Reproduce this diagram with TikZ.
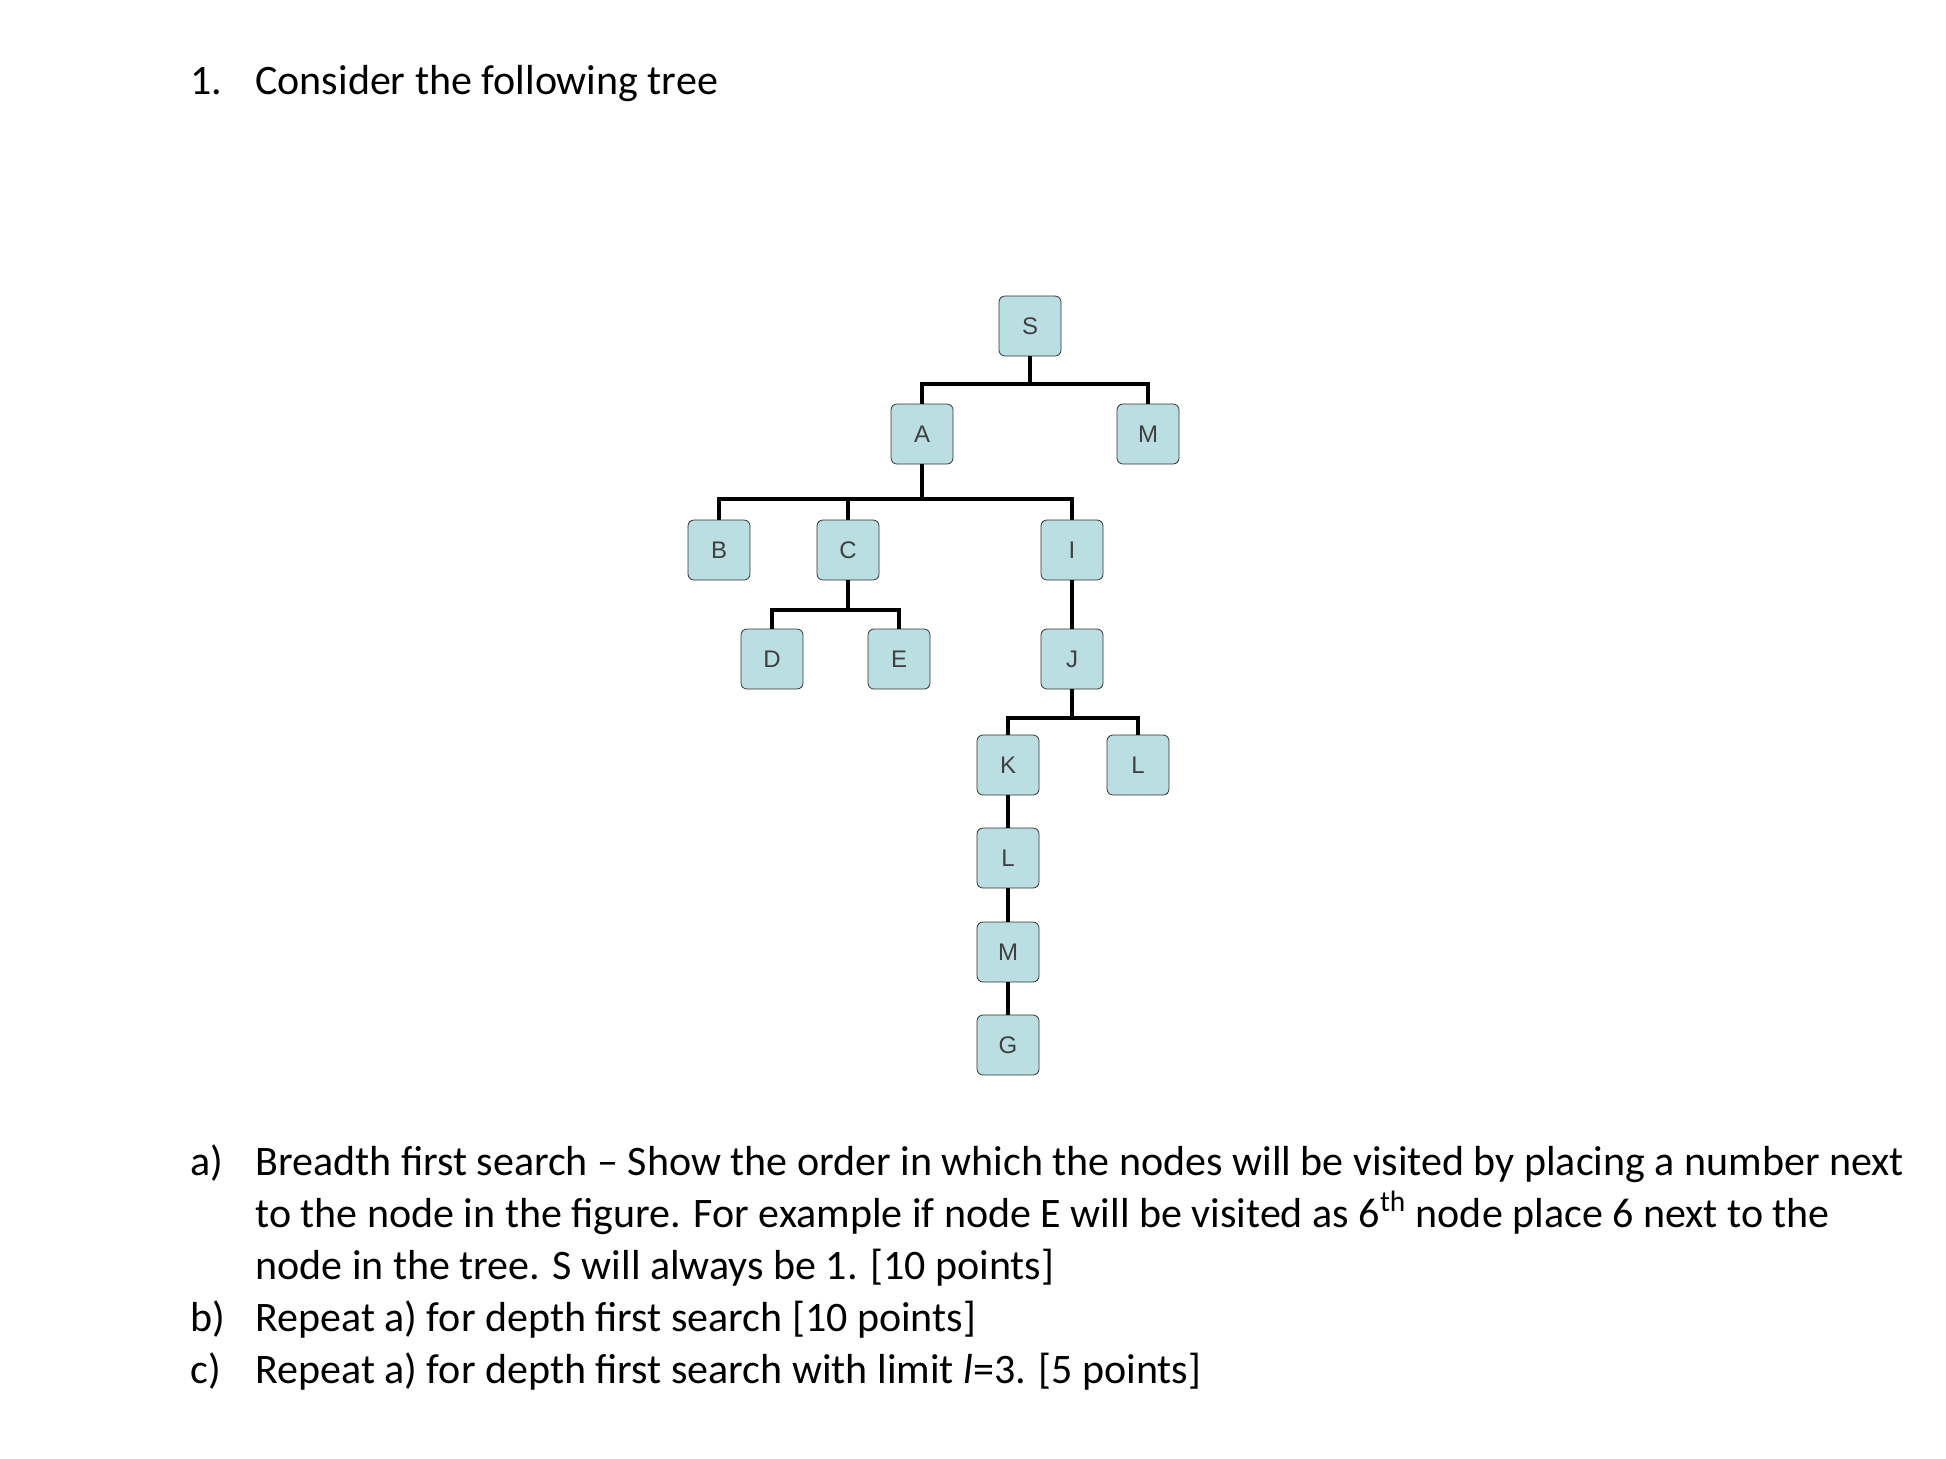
\documentclass[tikz,border=0pt]{standalone}
\usepackage{fontspec}
\setmainfont{Carlito}
\newfontfamily\arialf{Liberation Sans}
\definecolor{nodefill}{RGB}{186,222,226}
\begin{document}
\begin{tikzpicture}[x=0.5pt,y=-0.5pt,
  tn/.style={draw=black!80,fill=nodefill,rounded corners=3pt,minimum width=31pt,minimum height=30pt,inner sep=0pt,font=\arialf\fontsize{12}{12}\selectfont\color{black!75}},
  ln/.style={line width=1.6pt},
  txt/.style={anchor=base west,inner sep=0pt,font=\fontsize{21}{26}\selectfont}]
\useasboundingbox (0,0) rectangle (1946,1458);
\node[tn] (S) at (1030,326) {S};
\node[tn] (A) at (922,434) {A};
\node[tn] (M) at (1148,434) {M};
\node[tn] (B) at (719,550) {B};
\node[tn] (C) at (848,550) {C};
\node[tn] (I) at (1072,550) {I};
\node[tn] (D) at (772,659) {D};
\node[tn] (E) at (899,659) {E};
\node[tn] (J) at (1072,659) {J};
\node[tn] (K) at (1008,765) {K};
\node[tn] (L) at (1138,765) {L};
\node[tn] (L2) at (1008,858) {L};
\node[tn] (M2) at (1008,952) {M};
\node[tn] (G) at (1008,1045) {G};
\coordinate (b1) at (1030,384);
\coordinate (b2) at (922,499);
\coordinate (b3) at (848,610);
\coordinate (b4) at (1072,718);
\draw[ln] (S) -- (b1);
\draw[ln] (A.north) |- (b1) -| (M.north);
\draw[ln] (A) -- (b2);
\draw[ln] (B.north) |- (b2) -| (I.north);
\draw[ln] (C.north) -- (C.north |- b2);
\draw[ln] (C) -- (b3);
\draw[ln] (D.north) |- (b3) -| (E.north);
\draw[ln] (I) -- (J);
\draw[ln] (J) -- (b4);
\draw[ln] (K.north) |- (b4) -| (L.north);
\draw[ln] (K) -- (L2);
\draw[ln] (L2) -- (M2);
\draw[ln] (M2) -- (G);
\node[txt] (t0) at (190,94) {1.};
\node[txt] (t0b) at (255,94) {Consider the following tree};
\node[txt] (la) at (190,1175) {a)};
\node[txt] (ta) at (255,1175) {Breadth first search -- Show the order in which the nodes will be visited by placing a number next};
\node[txt] (ta2) at (255,1227) {to the node in the figure. For example if node E will be visited as 6\textsuperscript{th} node place 6 next to the};
\node[txt] (ta3) at (255,1279) {node in the tree. S will always be 1. [10 points]};
\node[txt] (lb) at (190,1331) {b)};
\node[txt] (tb) at (255,1331) {Repeat a) for depth first search [10 points]};
\node[txt] (lc) at (190,1383) {c)};
\node[txt] (tc) at (255,1383) {Repeat a) for depth first search with limit \textit{l}=3. [5 points]};
\end{tikzpicture}
\end{document}
